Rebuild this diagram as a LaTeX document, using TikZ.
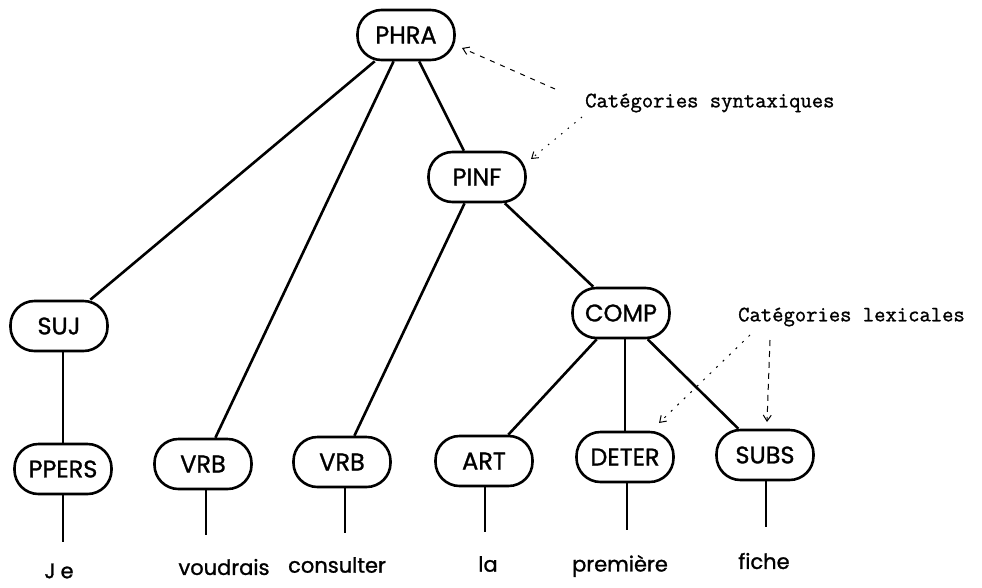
\documentclass[tikz,border=0pt]{standalone}
\usepackage{fontspec}
\usetikzlibrary{arrows.meta}
\newfontfamily\catfont{Poppins}[UprightFeatures={FakeBold=1.2}]
\newfontfamily\typefont{Latin Modern Mono}[UprightFeatures={FakeBold=1.2}]
\begin{document}
\begin{tikzpicture}[x=1pt,y=-1pt,
  cat/.style={draw, line width=2.6pt, rounded corners=24pt, minimum width=97pt,
    minimum height=50pt, inner sep=0pt, font=\catfont\fontsize{24}{28}\selectfont},
  word/.style={font=\catfont\fontsize{21}{25}\selectfont, inner sep=0pt},
  note/.style={font=\typefont\fontsize{22}{26}\selectfont, inner sep=0pt, anchor=west},
  branch/.style={line width=2.6pt},
  pointer/.style={line width=1pt, -{Straight Barb[length=6pt,width=8pt]}}]
\useasboundingbox (0,0) rectangle (982,587);

% syntactic and lexical category nodes
\node[cat] (phra)  at (406,35)  {PHRA};
\node[cat] (pinf)  at (477,177) {PINF};
\node[cat] (suj)   at (59,326)  {SUJ};
\node[cat] (comp)  at (621,313) {COMP};
\node[cat] (ppers) at (63,469)  {PPERS};
\node[cat] (vrba)  at (203,464) {VRB};
\node[cat] (vrbb)  at (342,462) {VRB};
\node[cat] (art)   at (484,461) {ART};
\node[cat] (deter) at (625,457) {DETER};
\node[cat] (subs)  at (765,455) {SUBS};

% tree branches
\draw[branch] (phra) -- (suj);
\draw[branch] (phra) -- (vrba);
\draw[branch] (phra) -- (pinf);
\draw[branch] (pinf) -- (vrbb);
\draw[branch] (pinf) -- (comp);
\draw[branch] (comp) -- (art);
\draw[branch] (comp.south -| deter) -- (deter);
\draw[branch] (comp) -- (subs);
\draw[branch] (suj.south -| ppers) -- (ppers);

% stems down to the words
\coordinate (tppers) at (63,542);
\coordinate (tvrba)  at (206,535);
\coordinate (tvrbb)  at (345,533);
\coordinate (tart)   at (485,532);
\coordinate (tdeter) at (627,530);
\coordinate (tsubs)  at (766,527);
\draw[branch] (ppers.south -| tppers) -- (tppers);
\draw[branch] (vrba.south -| tvrba) -- (tvrba);
\draw[branch] (vrbb.south -| tvrbb) -- (tvrbb);
\draw[branch] (art.south -| tart) -- (tart);
\draw[branch] (deter.south -| tdeter) -- (tdeter);
\draw[branch] (subs.south -| tsubs) -- (tsubs);

% the sentence
\node[word] (w1) at (59,571)  {J\hspace{5pt}e};
\node[word] (w2) at (224,567) {voudrais};
\node[word] (w3) at (337,565) {consulter};
\node[word] (w4) at (488,564) {la};
\node[word] (w5) at (620,566) {première};
\node[word] (w6) at (764,561) {fiche};

% annotations
\node[note] (syn) at (585,103) {Catégories syntaxiques};
\node[note] (lex) at (738,317) {Catégories lexicales};

\coordinate (sa) at (555,89);
\coordinate (sb) at (582,117);
\coordinate (la) at (750,335);
\coordinate (lb) at (770,340);
\coordinate (ea) at (462,48);
\coordinate (eb) at (531,159);
\coordinate (ec) at (659,423);
\coordinate (ed) at (767,422);
\draw[pointer, dash pattern=on 5pt off 6pt] (sa) -- (ea);
\draw[pointer, dash pattern=on 1.5pt off 7pt] (sb) -- (eb);
\draw[pointer, dash pattern=on 2pt off 7pt] (la) -- (ec);
\draw[pointer, dash pattern=on 6pt off 5pt] (lb) -- (ed);
\end{tikzpicture}
\end{document}
